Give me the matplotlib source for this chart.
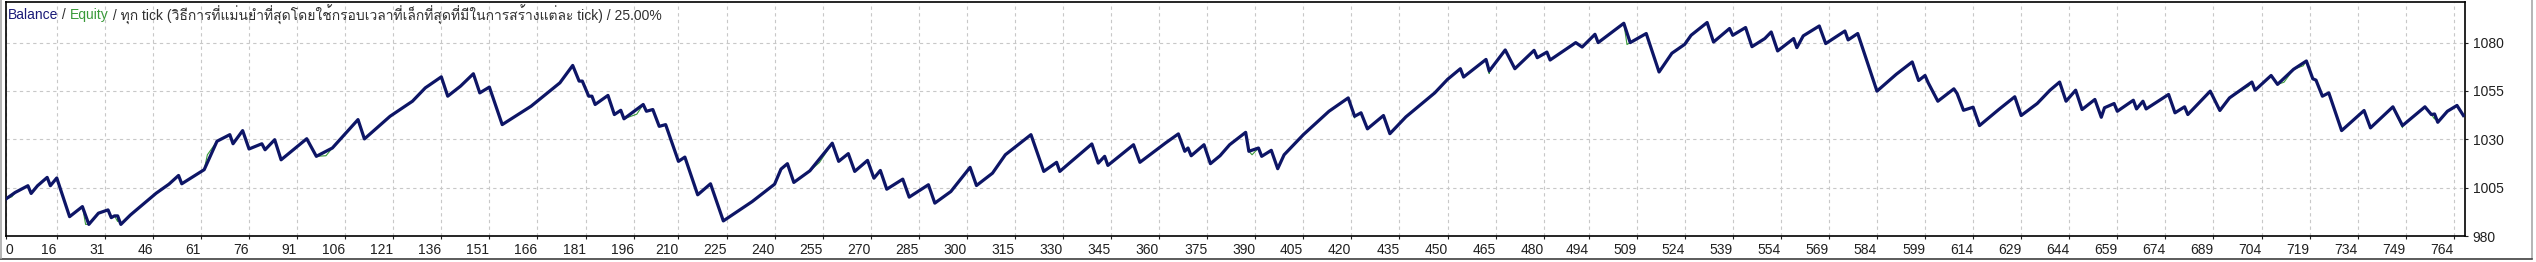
import matplotlib
matplotlib.use("Agg")
import matplotlib.pyplot as plt
from matplotlib import font_manager
from matplotlib.lines import Line2D

# balance curve vertices: trade number -> balance
bal_x = [0, 3, 7, 8, 10, 13, 14, 16, 20, 24, 26, 29, 32, 33, 34, 35, 36, 39,
         47, 51, 54, 55, 62, 66, 68, 70, 71, 74, 76, 80, 81, 84, 86, 94, 97,
         102, 110, 112, 120, 127, 131, 136, 138, 142, 146, 148, 151, 155, 164,
         173, 177, 179, 180, 182, 183, 184, 188, 190, 192, 193, 199, 200, 202,
         204, 206, 210, 212, 216, 220, 224, 233, 240, 242, 244, 246, 251, 258,
         260, 263, 265, 269, 271, 273, 275, 280, 282, 288, 290, 295, 301, 303,
         308, 312, 320, 324, 328, 329, 332, 339, 341, 343, 344, 352, 354, 362,
         366, 368, 369, 370, 374, 376, 379, 382, 387, 388, 391, 392, 395, 397,
         399, 405, 413, 419, 421, 423, 425, 430, 432, 437, 446, 450, 454, 455,
         462, 463, 468, 471, 477, 478, 481, 482, 490, 492, 496, 497, 505, 507,
         512, 516, 520, 524, 526, 531, 533, 538, 539, 543, 545, 549, 551, 553,
         558, 559, 561, 566, 568, 574, 575, 578, 584, 590, 595, 597, 599, 600,
         603, 608, 609, 611, 614, 616, 622, 627, 629, 634, 638, 641, 643, 646,
         648, 652, 654, 655, 658, 659, 664, 665, 667, 668, 675, 677, 680, 681,
         688, 691, 694, 701, 702, 707, 709, 714, 718, 720, 721, 723, 725, 729,
         736, 738, 745, 748, 755, 757, 758, 759, 762, 765, 767]
bal_y = [999.0, 1002.5, 1006.0, 1002.0, 1006.0, 1010.3, 1006.0, 1010.0, 990.0,
         995.2, 986.0, 991.8, 993.5, 989.5, 990.4, 990.4, 986.0, 990.9,
         1002.1, 1006.8, 1011.3, 1007.0, 1014.3, 1029.0, 1030.7, 1032.4, 1027.7,
         1034.5, 1025.0, 1027.7, 1024.6, 1029.8, 1019.4, 1030.3, 1021.2,
         1025.5, 1040.2, 1030.2, 1041.9, 1049.7, 1056.6, 1062.3, 1052.3, 1057.5,
         1063.9, 1054.0, 1057.0, 1037.6, 1047.1,
         1059.2, 1068.2, 1060.1, 1060.1, 1052.3, 1052.3, 1048.0, 1052.7, 1042.8,
         1045.0, 1040.6, 1048.0, 1044.5, 1045.4,
         1036.7, 1037.6, 1018.6, 1020.8, 1001.3, 1007.0, 987.8, 997.8, 1006.8,
         1014.6, 1017.4, 1007.7, 1013.7, 1028.0,
         1018.6, 1022.6, 1013.4, 1019.1, 1009.9, 1013.9, 1004.2, 1009.4, 1000.1,
         1006.5, 997.0, 1003.0, 1015.5, 1006.1,
         1012.5, 1022.0, 1032.4, 1013.4, 1018.1, 1013.4, 1017.7, 1027.6, 1017.7,
         1021.2, 1016.5, 1027.2, 1018.1, 1028.1,
         1032.8, 1023.8, 1025.5, 1021.5, 1027.2, 1017.4, 1021.5, 1027.2, 1033.6,
         1023.8, 1025.5, 1021.2, 1024.3, 1014.8,
         1022.0, 1032.4, 1044.5, 1051.4, 1041.9, 1043.7, 1035.4, 1042.3, 1032.9,
         1041.6, 1054.0, 1061.0, 1066.5, 1062.2,
         1071.3, 1065.3, 1076.2, 1066.5, 1076.0, 1072.2, 1075.1, 1071.0, 1080.0,
         1077.7, 1084.3, 1080.0, 1090.0, 1080.0,
         1084.7, 1064.8, 1074.5, 1079.1, 1083.8, 1090.4, 1080.3, 1087.3, 1083.8,
         1087.8, 1077.9, 1082.1, 1085.5, 1075.7,
         1082.1, 1077.4, 1083.5, 1088.6, 1079.5, 1086.0, 1081.4, 1084.7, 1054.9,
         1063.6, 1070.0, 1060.4, 1063.0, 1059.2,
         1049.7, 1056.1, 1053.7, 1045.0, 1046.6, 1037.1, 1045.4, 1052.0, 1042.3,
         1048.5, 1055.4, 1059.6, 1049.7, 1055.4,
         1045.4, 1050.6, 1041.4, 1046.3, 1048.5, 1044.5, 1050.2, 1045.7, 1049.7,
         1045.7, 1053.2, 1043.7, 1046.8, 1042.8,
         1054.9, 1044.9, 1051.4, 1059.6, 1055.4, 1063.0, 1058.4, 1066.2, 1070.5,
         1061.3, 1060.6, 1052.3, 1054.0, 1034.5,
         1044.9, 1035.9, 1046.8, 1037.1, 1046.8, 1042.8, 1043.1, 1038.8, 1044.5,
         1047.5, 1042.3]

# equity: where it departs from the balance curve (floating drawdowns)
eq_dip_x = [2, 25, 35, 63, 100, 197, 254, 389, 421, 463, 506, 700, 711, 717,
            748, 758]
eq_dip_y = [1000.3, 986.0, 987.5, 1022.0, 1021.5, 1043.0, 1018.0, 1022.0,
            1041.0, 1064.0, 1079.0, 1057.5, 1059.5, 1068.0, 1036.0, 1040.5]

x_ticks = [0, 16, 31, 46, 61, 76, 91, 106, 121, 136, 151, 166, 181, 196, 210,
           225, 240, 255, 270, 285, 300, 315, 330, 345, 360, 375, 390, 405,
           420, 435, 450, 465, 480, 494, 509, 524, 539, 554, 569, 584, 599,
           614, 629, 644, 659, 674, 689, 704, 719, 734, 749, 764]
y_ticks = [980, 1005, 1030, 1055, 1080]

title_parts = [("Balance", "#1a1a78"), (" / ", "#303030"),
               ("Equity", "#3a9a3a"),
               (" / ทุก tick (วิธีการที่แม่นยำที่สุดโดยใช้กรอบเวลาที่เล็กที่สุดที่มีในการสร้างแต่ละ tick) / 25.00%",
                "#303030")]


def find_thai_font():
    try:
        from fontTools.ttLib import TTFont
    except ImportError:
        return None
    for f in font_manager.fontManager.ttflist:
        try:
            tt = TTFont(f.fname, fontNumber=0, lazy=True)
            cmap = tt.getBestCmap() or {}
            if 0x0E17 in cmap and 0x0E38 in cmap:
                return f.name
        except Exception:
            continue
    return None


thai = find_thai_font()
families = ["Liberation Sans"] + ([thai] if thai else []) + ["DejaVu Sans"]
plt.rcParams["font.family"] = families

W, H = 2536, 262
fig = plt.figure(figsize=(W / 100, H / 100), dpi=100)
fig.patch.set_facecolor("white")
ax = fig.add_axes([5.5 / W, (H - 236) / H, (2465 - 5.5) / W, 234 / H])

# equity goes under balance
eq = sorted(zip(bal_x + eq_dip_x, bal_y + eq_dip_y))
ax.plot([p[0] for p in eq], [p[1] for p in eq], color="#3a9a3a", lw=0.8,
        zorder=2)
ax.plot(bal_x, bal_y, color="#0d1566", lw=2.3, zorder=3)

ax.set_xlim(0, 767.5)
ax.set_ylim(980, 1101)
ax.set_xticks(x_ticks)
ax.set_xticklabels([str(v) for v in x_ticks])
for i, lab in enumerate(ax.get_xticklabels()):
    lab.set_horizontalalignment("left" if i == 0 else "right")
ax.set_yticks(y_ticks)
ax.yaxis.tick_right()
ax.tick_params(axis="both", direction="out", length=2.5, width=0.8,
               labelsize=10, colors="#202020")
ax.tick_params(axis="x", pad=2.5)
ax.tick_params(axis="y", pad=3)
ax.grid(True, color="#c8c8c8", linestyle=(0, (3, 3)), linewidth=0.8)
ax.set_axisbelow(True)
for sp in ax.spines.values():
    sp.set_color("black")
    sp.set_linewidth(1.2)

# multi-coloured caption in the top-left corner
fig.canvas.draw()
renderer = fig.canvas.get_renderer()
xpos = 8
for txt, col in title_parts:
    t = fig.text(xpos / W, (H - 15) / H, txt, color=col, fontsize=10,
                 va="center", ha="left")
    xpos = t.get_window_extent(renderer).x1

# window frame bits
fig.add_artist(Line2D([2532 / W, 2532 / W], [4 / H, 1], color="#a8a8a8",
                      lw=1.2))
fig.add_artist(Line2D([0, 2532 / W], [3.5 / H, 3.5 / H], color="#404040",
                      lw=1.2))
fig.add_artist(Line2D([0.5 / W, 0.5 / W], [4 / H, 1], color="#a8a8a8",
                      lw=1.2))

fig.savefig("out.png", dpi=100, facecolor="white")
